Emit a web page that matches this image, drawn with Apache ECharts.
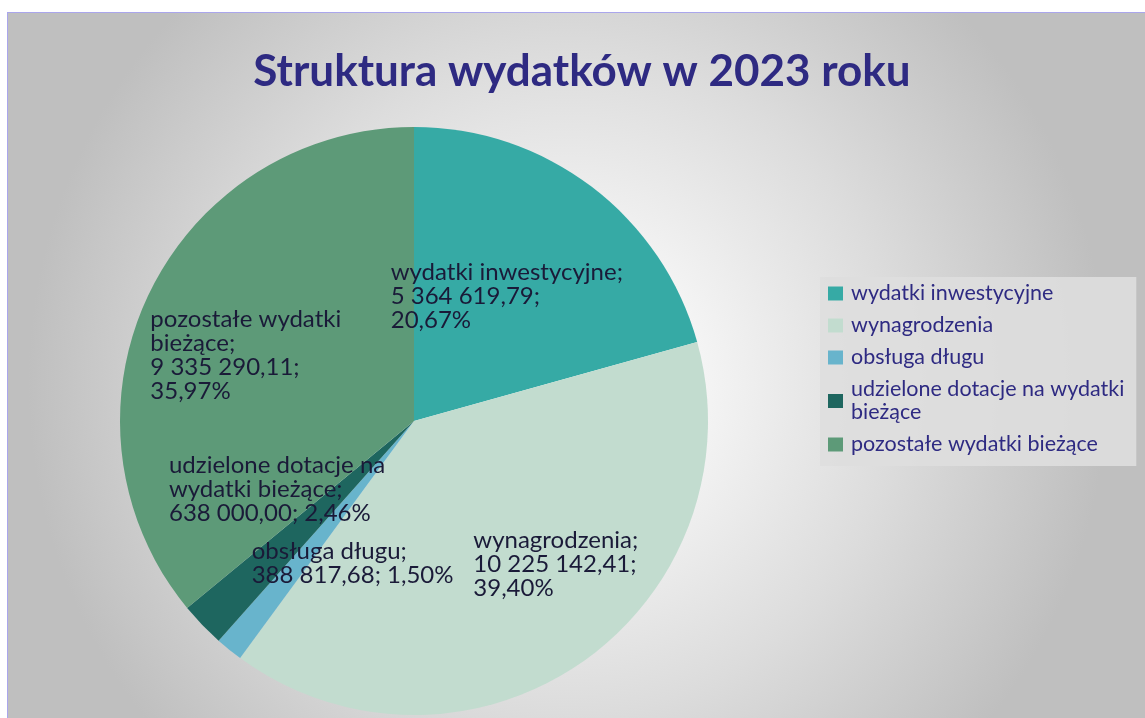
<!DOCTYPE html>
<html>
<head>
<meta charset="utf-8">
<script src="https://cdn.jsdelivr.net/npm/echarts@6/dist/echarts.min.js"></script>
<style>
  html, body { margin: 0; padding: 0; background: #fff; }
  #frame {
    position: absolute; left: 7px; top: 12px; width: 1145px; height: 718px;
    box-sizing: border-box; border: 1px solid #aaa6ec;
    background: radial-gradient(circle at 560px 370px, #ffffff 0px, #f6f6f6 120px, #dcdcdc 330px, #bfbfbf 540px);
  }
  #chart { position: absolute; left: 0; top: 0; width: 1145px; height: 718px; }
</style>
</head>
<body>
<div id="frame"></div>
<div id="chart"></div>
<script>
// dane
const categories = ['wydatki inwestycyjne', 'wynagrodzenia', 'obsługa długu', 'udzielone dotacje na wydatki bieżące', 'pozostałe wydatki bieżące'];
const values = [5364619.79, 10225142.41, 388817.68, 638000.00, 9335290.11];
const colors = ['#36aaa5', '#c2dccf', '#68b4cc', '#1e665f', '#5d9a78'];

// przesunięcia etykiet względem pozycji "inside"
const labelShift = [[-114, -41], [-26, -16], [-68, 2], [-137, -72], [-128, -50]];

const total = values.reduce((a, b) => a + b, 0);

function fmtNum(v) {
    const parts = v.toFixed(2).split('.');
    return parts[0].replace(/\B(?=(\d{3})+(?!\d))/g, ' ') + ',' + parts[1];
}
function fmtPct(v) {
    return (v / total * 100).toFixed(2).replace('.', ',') + '%';
}

const labelTexts = [
    categories[0] + ';\n' + fmtNum(values[0]) + ';\n' + fmtPct(values[0]),
    categories[1] + ';\n' + fmtNum(values[1]) + ';\n' + fmtPct(values[1]),
    categories[2] + ';\n' + fmtNum(values[2]) + '; ' + fmtPct(values[2]),
    'udzielone dotacje na\nwydatki bieżące;\n' + fmtNum(values[3]) + '; ' + fmtPct(values[3]),
    'pozostałe wydatki\nbieżące;\n' + fmtNum(values[4]) + ';\n' + fmtPct(values[4])
];

const chart = echarts.init(document.getElementById('chart'));

const options = {
    animation: false,
    title: {
        text: 'Struktura wydatków w 2023 roku',
        left: 577,
        textAlign: 'center',
        top: 45,
        textStyle: { fontFamily: 'Lato', fontWeight: 'bold', fontSize: 44, color: '#2e2a82' }
    },
    legend: {
        orient: 'vertical',
        left: 820,
        top: 277,
        padding: [5, 12, 10, 8],
        backgroundColor: 'rgba(222,222,222,0.9)',
        itemWidth: 15,
        itemHeight: 14,
        itemGap: 9,
        icon: 'rect',
        data: categories,
        formatter: name => name === categories[3] ? 'udzielone dotacje na wydatki\nbieżące' : name,
        textStyle: { fontFamily: 'Lato', fontSize: 21.5, lineHeight: 23, color: '#2e2a82', padding: [0, 0, 0, 3] }
    },
    series: [
        {
            type: 'pie',
            center: [414, 421],
            radius: 294,
            startAngle: 90,
            clockwise: true,
            emphasis: { disabled: true },
            label: {
                show: true,
                position: 'inside',
                fontFamily: 'Lato',
                fontSize: 24,
                lineHeight: 24,
                color: '#1a1a38'
            },
            labelLine: { show: false },
            labelLayout: params => ({
                dx: labelShift[params.dataIndex][0],
                dy: labelShift[params.dataIndex][1],
                align: 'left',
                verticalAlign: 'top'
            }),
            data: categories.map((c, i) => ({
                name: c,
                value: values[i],
                itemStyle: { color: colors[i] },
                label: { formatter: labelTexts[i] }
            }))
        }
    ]
};

chart.setOption(options);
</script>
</body>
</html>
